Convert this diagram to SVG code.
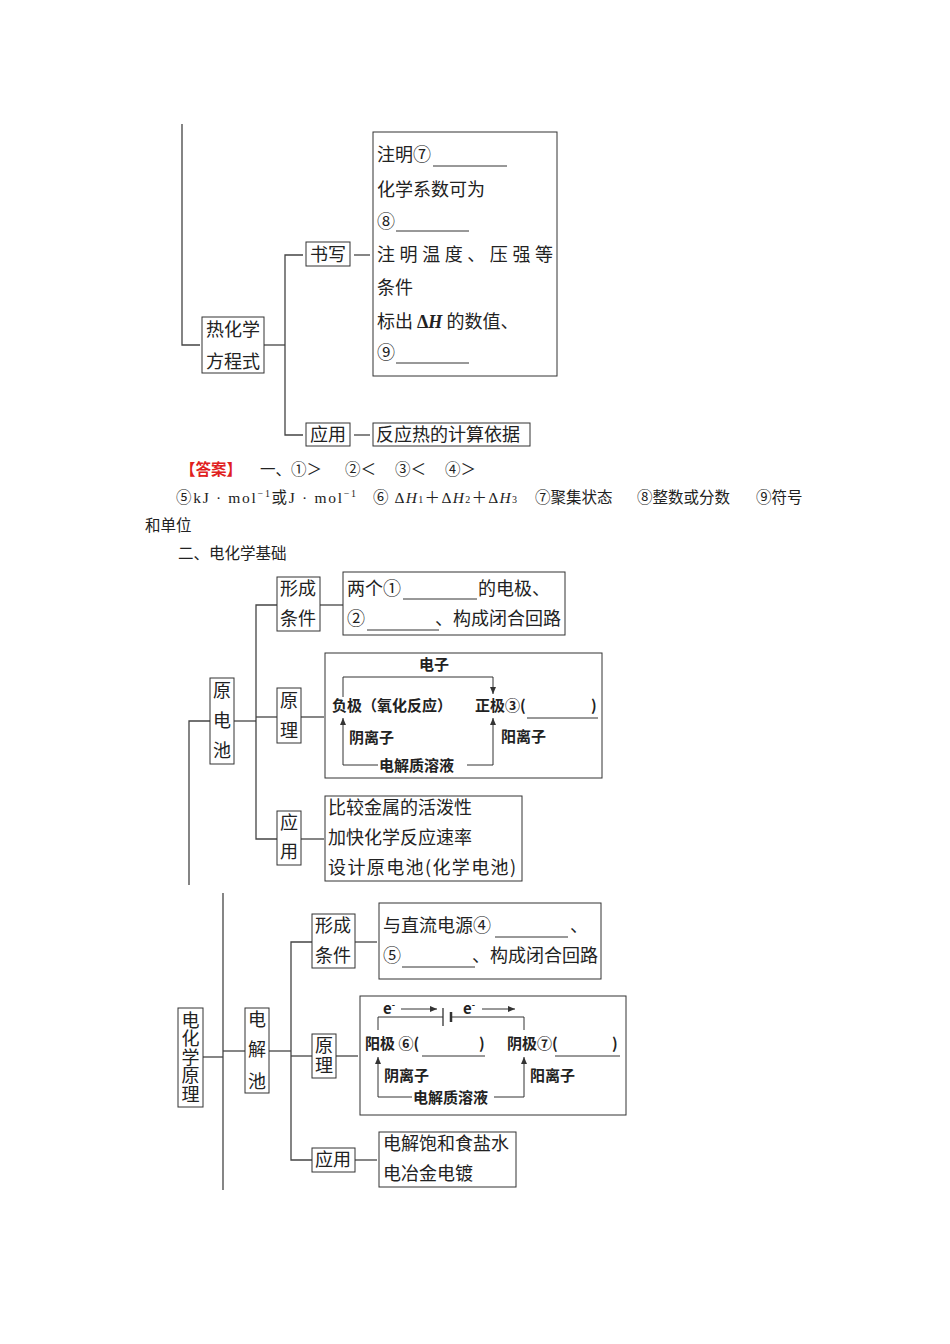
<svg xmlns="http://www.w3.org/2000/svg" width="950" height="1344" viewBox="0 0 950 1344">
<style>
.t{font-family:"Noto Sans CJK SC","Noto Sans",sans-serif;font-size:18px;fill:#222}
.m{text-anchor:middle}
.b{font-weight:bold;font-size:15px}
.a{font-family:"Noto Sans CJK SC","Noto Sans",sans-serif;font-size:15.5px;fill:#222}
.s{font-family:"Liberation Serif","Noto Sans CJK SC",serif}
.box{fill:none;stroke:#333;stroke-width:1}
.ln{fill:none;stroke:#444;stroke-width:1.3}
.ul{fill:none;stroke:#333;stroke-width:1}
</style>
<defs>
<marker id="ah" markerWidth="8" markerHeight="8" refX="7" refY="4" orient="auto" markerUnits="userSpaceOnUse">
<path d="M0,1 L7,4 L0,7 Z" fill="#333"/>
</marker>
</defs>
<rect width="950" height="1344" fill="#fff"/>

<g id="connectors">
<polyline class="ln" points="182,124 182,345 200,345"/>
<line class="ln" x1="264" y1="345" x2="285" y2="345"/>
<polyline class="ln" points="303,255 285,255 285,435 303,435"/>
<line class="ln" x1="354" y1="255" x2="370" y2="255"/>
<line class="ln" x1="354" y1="435" x2="370" y2="435"/>
<polyline class="ln" points="189,885 189,721 210,721"/>
<line class="ln" x1="234" y1="721" x2="256" y2="721"/>
<polyline class="ln" points="277,605 256,605 256,839 277,839"/>
<line class="ln" x1="256" y1="717" x2="277" y2="717"/>
<line class="ln" x1="320" y1="605" x2="343" y2="605"/>
<line class="ln" x1="301" y1="717" x2="324" y2="717"/>
<line class="ln" x1="301" y1="839" x2="324" y2="839"/>
<line class="ln" x1="223" y1="893" x2="223" y2="1190"/>
<line class="ln" x1="203" y1="1057" x2="223" y2="1057"/>
<line class="ln" x1="223" y1="1051" x2="245" y2="1051"/>
<line class="ln" x1="269" y1="1051" x2="291" y2="1051"/>
<polyline class="ln" points="312,942 291,942 291,1160 312,1160"/>
<line class="ln" x1="291" y1="1056" x2="312" y2="1056"/>
<line class="ln" x1="355" y1="942" x2="377" y2="942"/>
<line class="ln" x1="336" y1="1056" x2="358" y2="1056"/>
<line class="ln" x1="355" y1="1160" x2="377" y2="1160"/>
</g>

<g id="rhx">
<rect class="box" x="202" y="317" width="62" height="56"/>
<text class="t" x="206" y="336">热化学</text>
<text class="t" x="206" y="368">方程式</text>
</g>
<g id="shuxie">
<rect class="box" x="306" y="242" width="44" height="24"/>
<text class="t" x="310" y="261">书写</text>
</g>
<g id="shuxie-content">
<rect class="box" x="373" y="132" width="184" height="244"/>
<text class="t" x="377" y="161">注明⑦</text>
<line class="ul" x1="433" y1="166" x2="507" y2="166"/>
<text class="t" x="377" y="196">化学系数可为</text>
<text class="t" x="377" y="228">⑧</text>
<line class="ul" x1="396" y1="231" x2="469" y2="231"/>
<text class="t" x="377" y="261" textLength="176" lengthAdjust="spacing">注明温度、压强等</text>
<text class="t" x="377" y="294">条件</text>
<text class="t" x="377" y="328">标出 <tspan class="s" font-weight="bold">Δ</tspan><tspan class="s" font-style="italic" font-weight="bold">H</tspan> 的数值、</text>
<text class="t" x="377" y="359">⑨</text>
<line class="ul" x1="396" y1="363" x2="469" y2="363"/>
</g>
<g id="yingyong1">
<rect class="box" x="306" y="423" width="44" height="23"/>
<text class="t" x="310" y="441">应用</text>
</g>
<g id="yingyong1-content">
<rect class="box" x="373" y="423" width="157" height="23"/>
<text class="t" x="376" y="441">反应热的计算依据</text>
</g>

<g id="answers">
<text class="a" x="180" y="475" style="fill:#e02020;font-weight:bold">【答案】</text>
<text class="a" x="260" y="475">一、①＞</text>
<text class="a" x="345" y="475">②＜</text>
<text class="a" x="395" y="475">③＜</text>
<text class="a" x="445" y="475">④＞</text>
<text class="a" x="176" y="503" textLength="180" lengthAdjust="spacing">⑤<tspan class="s">kJ · mol</tspan><tspan class="s" font-size="10" dy="-6">−1</tspan><tspan dy="6">或</tspan><tspan class="s">J · mol</tspan><tspan class="s" font-size="10" dy="-6">−1</tspan></text>
<text class="a" x="373" y="503" textLength="144" lengthAdjust="spacing">⑥ <tspan class="s">Δ</tspan><tspan class="s" font-style="italic">H</tspan><tspan class="s" font-size="10">1</tspan>＋<tspan class="s">Δ</tspan><tspan class="s" font-style="italic">H</tspan><tspan class="s" font-size="10">2</tspan>＋<tspan class="s">Δ</tspan><tspan class="s" font-style="italic">H</tspan><tspan class="s" font-size="10">3</tspan></text>
<text class="a" x="535" y="503">⑦聚集状态</text>
<text class="a" x="637" y="503">⑧整数或分数</text>
<text class="a" x="756" y="503">⑨符号</text>
<text class="a" x="145" y="531">和单位</text>
<text class="a" x="178" y="559">二、电化学基础</text>
</g>

<g id="ydc">
<rect class="box" x="210" y="678" width="24" height="86"/>
<text class="t m" x="222" y="697">原</text>
<text class="t m" x="222" y="727">电</text>
<text class="t m" x="222" y="757">池</text>
</g>
<g id="ydc-xc">
<rect class="box" x="277" y="577" width="43" height="54"/>
<text class="t" x="280" y="595">形成</text>
<text class="t" x="280" y="625">条件</text>
</g>
<g id="ydc-xc-content">
<rect class="box" x="343" y="572" width="222" height="63"/>
<text class="t" x="347" y="595">两个①</text>
<line class="ul" x1="403" y1="599" x2="477" y2="599"/>
<text class="t" x="478" y="595">的电极、</text>
<text class="t" x="347" y="625">②</text>
<line class="ul" x1="367" y1="630" x2="439" y2="630"/>
<text class="t" x="435" y="625">、构成闭合回路</text>
</g>
<g id="ydc-yl">
<rect class="box" x="277" y="688" width="24" height="55"/>
<text class="t m" x="289" y="707">原</text>
<text class="t m" x="289" y="737">理</text>
</g>
<g id="ydc-yl-content">
<rect class="box" x="325" y="653" width="277" height="125"/>
<text class="t b m" x="434" y="670">电子</text>
<polyline class="ul" points="343,697 343,677 493,677 493,694" marker-end="url(#ah)"/>
<text class="t b" x="332" y="711">负极（氧化反应）</text>
<text class="t b" x="475" y="711">正极③(</text>
<text class="t b" x="591" y="711">)</text>
<line class="ul" x1="527" y1="718" x2="598" y2="718"/>
<text class="t b" x="349" y="743">阴离子</text>
<text class="t b" x="501" y="742">阳离子</text>
<polyline class="ul" points="378,765 343,765 343,718" marker-end="url(#ah)"/>
<text class="t b" x="379" y="771">电解质溶液</text>
<polyline class="ul" points="467,765 493,765 493,718" marker-end="url(#ah)"/>
</g>
<g id="ydc-yy">
<rect class="box" x="277" y="811" width="24" height="54"/>
<text class="t m" x="289" y="829">应</text>
<text class="t m" x="289" y="858">用</text>
</g>
<g id="ydc-yy-content">
<rect class="box" x="325" y="796" width="197" height="85"/>
<text class="t" x="328" y="814">比较金属的活泼性</text>
<text class="t" x="328" y="844">加快化学反应速率</text>
<text class="t" x="328" y="874" textLength="188" lengthAdjust="spacing">设计原电池(化学电池)</text>
</g>

<g id="dhxyl">
<rect class="box" x="178" y="1008" width="25" height="99"/>
<text class="t" x="190.5" y="1011" writing-mode="vertical-rl" letter-spacing="0.5">电化学原理</text>
</g>
<g id="djc">
<rect class="box" x="245" y="1008" width="24" height="85"/>
<text class="t m" x="257" y="1026">电</text>
<text class="t m" x="257" y="1056">解</text>
<text class="t m" x="257" y="1088">池</text>
</g>
<g id="djc-xc">
<rect class="box" x="312" y="914" width="43" height="54"/>
<text class="t" x="315" y="932">形成</text>
<text class="t" x="315" y="962">条件</text>
</g>
<g id="djc-xc-content">
<rect class="box" x="379" y="903" width="222" height="76"/>
<text class="t" x="383" y="932">与直流电源④</text>
<line class="ul" x1="495" y1="937" x2="568" y2="937"/>
<text class="t" x="570" y="932">、</text>
<text class="t" x="383" y="962">⑤</text>
<line class="ul" x1="402" y1="967" x2="475" y2="967"/>
<text class="t" x="472" y="962">、构成闭合回路</text>
</g>
<g id="djc-yl">
<rect class="box" x="312" y="1034" width="24" height="44"/>
<text class="t" x="324" y="1036" writing-mode="vertical-rl" letter-spacing="2">原理</text>
</g>
<g id="djc-yl-content">
<rect class="box" x="360" y="996" width="266" height="119"/>
<text class="t b" x="383" y="1014" font-size="14">e<tspan font-size="9" dy="-6">-</tspan></text>
<line class="ul" x1="401" y1="1009" x2="437" y2="1009" marker-end="url(#ah)"/>
<text class="t b" x="463" y="1014" font-size="14">e<tspan font-size="9" dy="-6">-</tspan></text>
<line class="ul" x1="482" y1="1009" x2="515" y2="1009" marker-end="url(#ah)"/>
<polyline class="ul" points="378,1030 378,1017 443,1017"/>
<line x1="443" y1="1008" x2="443" y2="1026" stroke="#333" stroke-width="1.3"/>
<line x1="451" y1="1012" x2="451" y2="1022" stroke="#333" stroke-width="2.5"/>
<polyline class="ul" points="451,1017 524,1017 524,1030"/>
<text class="t b" x="365" y="1049" font-size="16">阳极 ⑥(</text>
<text class="t b" x="479" y="1049" font-size="16">)</text>
<line class="ul" x1="422" y1="1056" x2="485" y2="1056"/>
<text class="t b" x="507" y="1049" font-size="16">阴极⑦(</text>
<text class="t b" x="612" y="1049" font-size="16">)</text>
<line class="ul" x1="555" y1="1056" x2="620" y2="1056"/>
<text class="t b" x="384" y="1081" font-size="16">阴离子</text>
<text class="t b" x="530" y="1081" font-size="16">阳离子</text>
<polyline class="ul" points="412,1097 378,1097 378,1057" marker-end="url(#ah)"/>
<text class="t b" x="413" y="1103" font-size="16">电解质溶液</text>
<polyline class="ul" points="494,1097 524,1097 524,1057" marker-end="url(#ah)"/>
</g>
<g id="djc-yy">
<rect class="box" x="312" y="1148" width="43" height="24"/>
<text class="t" x="315" y="1166">应用</text>
</g>
<g id="djc-yy-content">
<rect class="box" x="379" y="1132" width="137" height="55"/>
<text class="t" x="383" y="1150">电解饱和食盐水</text>
<text class="t" x="383" y="1180">电冶金电镀</text>
</g>
</svg>
